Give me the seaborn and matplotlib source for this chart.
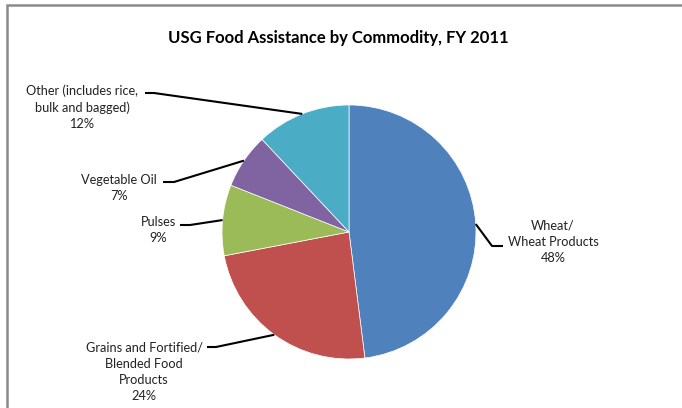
import numpy as np
import matplotlib
matplotlib.use("Agg")
import matplotlib.pyplot as plt
import seaborn as sns
from matplotlib.patches import Rectangle

# data
commodities = ["Wheat/\nWheat Products",
               "Grains and Fortified/\nBlended Food\nProducts",
               "Pulses",
               "Vegetable Oil",
               "Other (includes rice,\nbulk and bagged)"]
shares = [48, 24, 9, 7, 12]
colors = ["#4F81BD", "#C0504D", "#9BBB59", "#8064A2", "#4BACC6"]

sns.set_theme(style="white")
plt.rcParams["font.family"] = ["Lato", "DejaVu Sans"]

W, H = 682, 408
fig = plt.figure(figsize=(W / 100, H / 100), dpi=100)
ax = fig.add_axes([0, 0, 1, 1])

# pie: center / radius in pixel units (y up)
cx, cy, r = 349, H - 232, 127
wedges, _ = ax.pie(shares, colors=colors, startangle=90, counterclock=False,
                   center=(cx, cy), radius=r, frame=True,
                   wedgeprops=dict(edgecolor="white", linewidth=0.5))
ax.set_xlim(0, W)
ax.set_ylim(0, H)
ax.set_aspect("equal")
ax.set_axis_off()

# label layout (pixel coords, y down): text center, stub start, stub end
text_pos = [(553, 242), (144, 372), (158, 230), (119, 188), (82, 107)]
stub_pos = [((492, 246), (503, 246)),
            ((216, 347), (207, 347)),
            ((190, 225), (180, 225)),
            ((174, 182), (163, 182)),
            ((154, 93), (145, 93))]

for w, name, v, (tx, ty), (s0, s1) in zip(wedges, commodities, shares, text_pos, stub_pos):
    mid = np.deg2rad((w.theta1 + w.theta2) / 2)
    px, py = cx + r * np.cos(mid), cy + r * np.sin(mid)
    ax.plot([px, s0[0], s1[0]], [py, H - s0[1], H - s1[1]],
            color="black", lw=1.5, solid_capstyle="butt")
    ax.text(tx, H - ty, f"{name}\n{v}%", ha="center", va="center",
            fontsize=9.2, color="#222222", linespacing=1.4)

ax.text(338, H - 38, "USG Food Assistance by Commodity, FY 2011",
        ha="center", va="center", fontsize=12, fontweight="bold", color="black")

# chart frame (only left/top visible)
fig.patches.append(Rectangle((7 / W, -0.1), 1.2, (H - 5) / H + 0.1,
                             transform=fig.transFigure, fill=False,
                             edgecolor="#8a8a8a", linewidth=1.8))

plt.savefig("out.png", dpi=100)
